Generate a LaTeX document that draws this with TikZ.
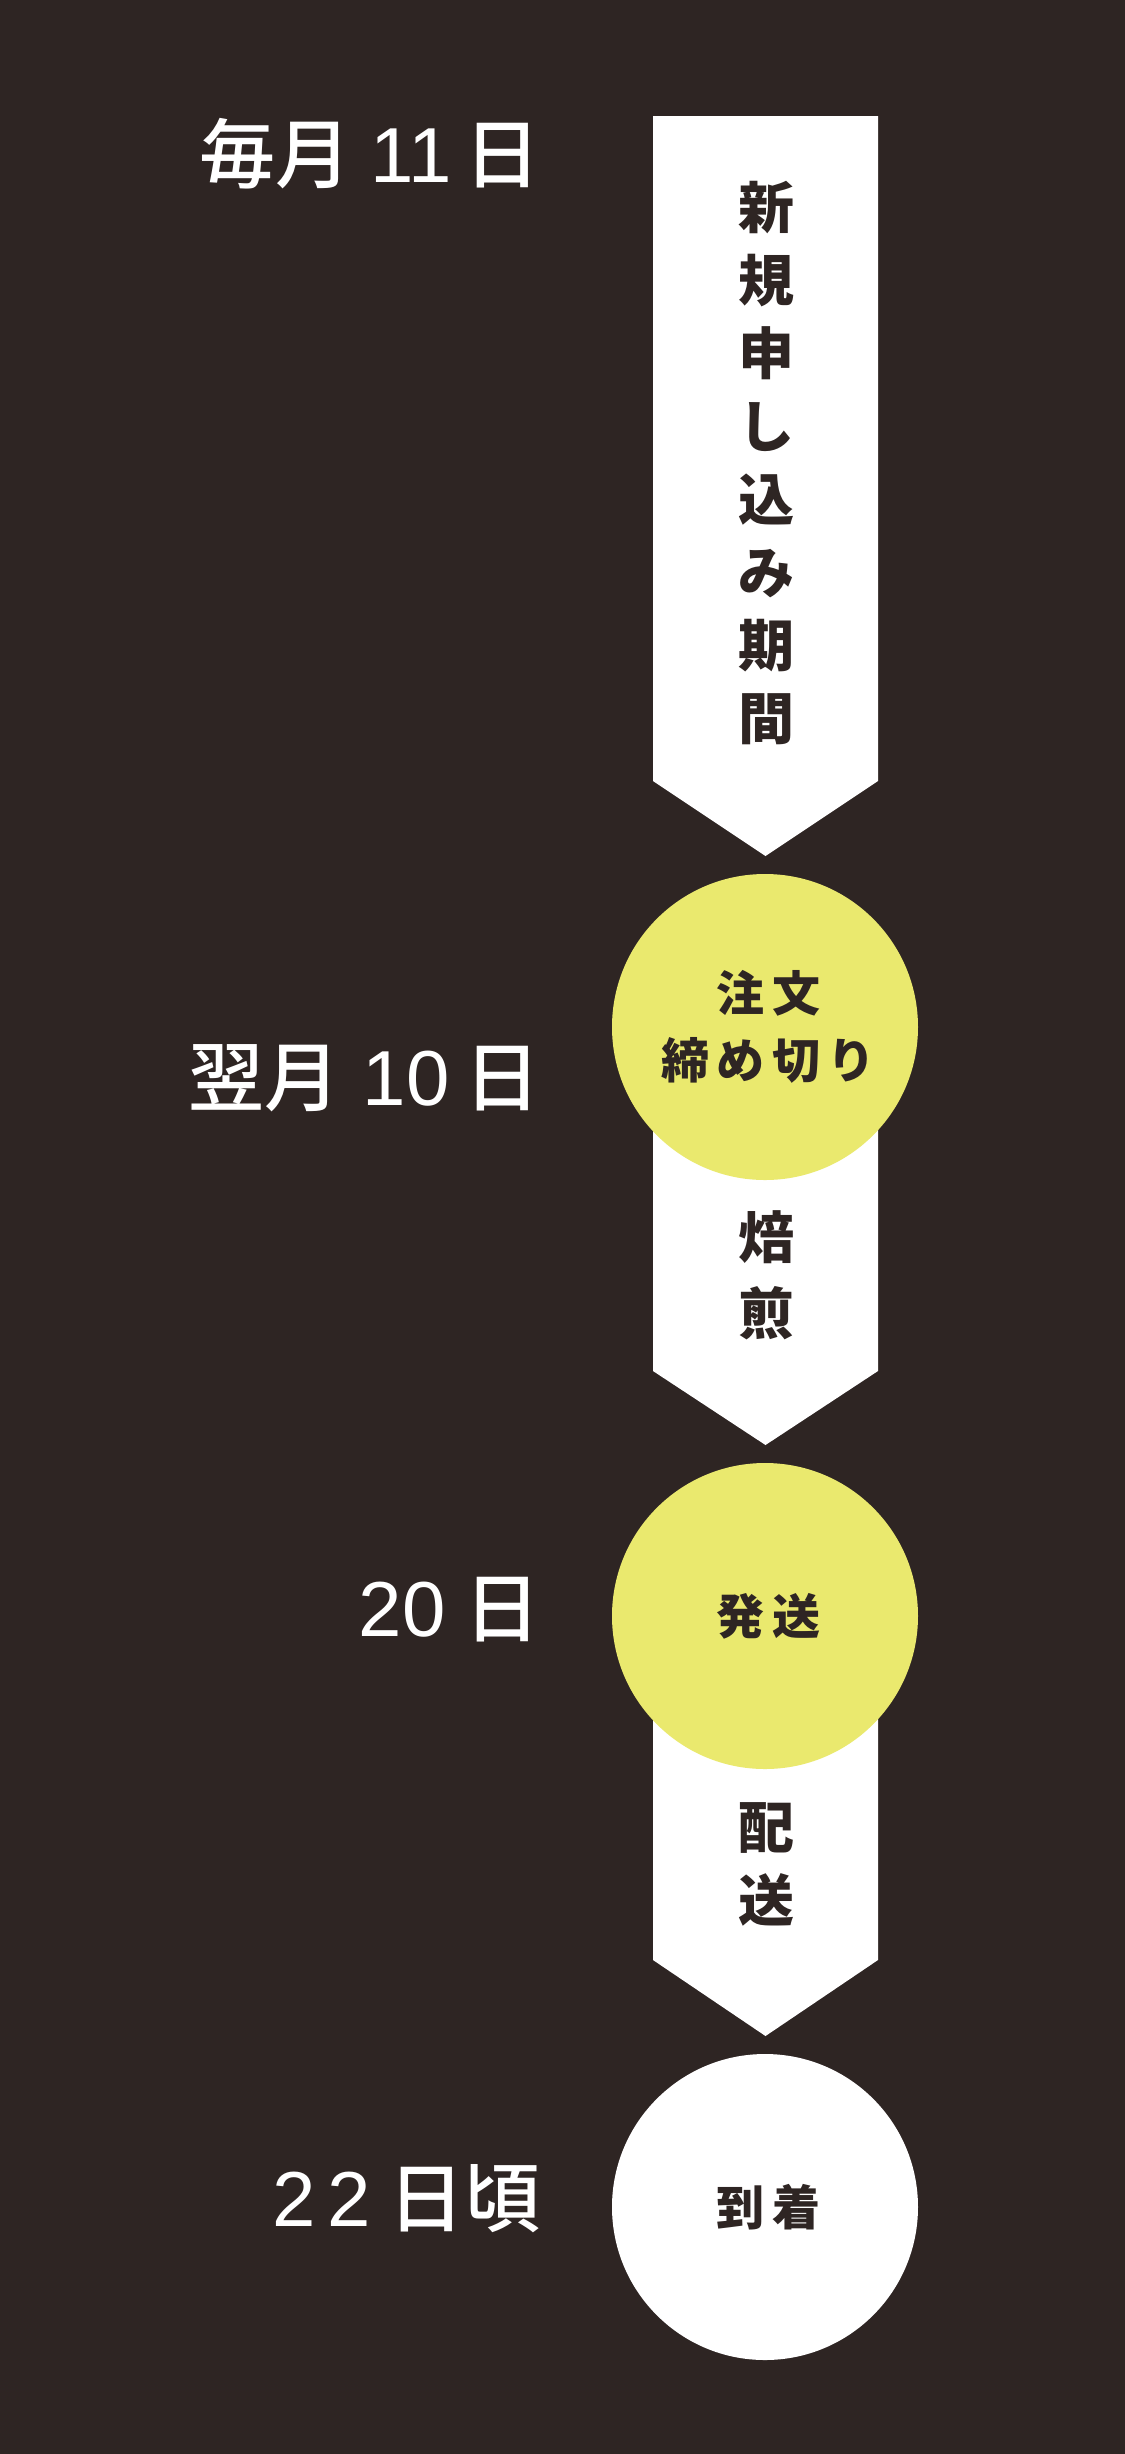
\documentclass[tikz,border=0pt]{standalone}
\usepackage{fontspec}
\setmainfont{Noto Sans CJK JP}
\newfontfamily\medfont{Noto Sans CJK JP Medium}
\newfontfamily\digfont{Liberation Sans}
\newfontfamily\circfont[LetterSpace=15]{Noto Sans CJK JP}
\newcommand{\dg}[1]{{\digfont\fontsize{39}{40}\selectfont #1}}
\definecolor{bg}{RGB}{46,37,35}
\definecolor{yel}{RGB}{234,233,110}
\tikzset{
  datelabel/.style={anchor=east, inner sep=0pt, text=white, font=\medfont\fontsize{38}{40}\selectfont},
  arrowshape/.style={fill=white, draw=none},
  arrowtext/.style={inner sep=0pt, align=center, text=bg, font=\bfseries\fontsize{28}{36.5}\selectfont},
  stepcircle/.style={circle, draw=none, minimum size=153pt, inner sep=0pt, align=center, text=bg, font=\circfont\bfseries\fontsize{24}{33.5}\selectfont},
}
\begin{document}
\begin{tikzpicture}[x=0.5pt, y=-0.5pt]
\fill[bg] (0,0) rectangle (1125,2454);
\useasboundingbox (0,0) rectangle (1125,2454);
% arrows
\fill[arrowshape] (653,116) -- (878,116) -- (878,781) -- (765.5,856) -- (653,781) -- cycle;
\fill[arrowshape] (653,1027) -- (878,1027) -- (878,1371) -- (765.5,1445) -- (653,1371) -- cycle;
\fill[arrowshape] (653,1616) -- (878,1616) -- (878,1960) -- (765.5,2036) -- (653,1960) -- cycle;
\node[arrowtext] (a1) at (766,463) {新\\規\\申\\し\\込\\み\\期\\間};
\node[arrowtext, font=\bfseries\fontsize{28}{38}\selectfont] (a2) at (766,1275) {焙\\煎};
\node[arrowtext] (a3) at (766,1864) {配\\送};
% circles
\node[stepcircle, fill=yel] (c1) at (765,1027) {\hspace*{3.5pt}注文\\\hspace*{3.5pt}締め切り};
\node[stepcircle, fill=yel] (c2) at (765,1616) {\hspace*{3.5pt}発送};
\node[stepcircle, fill=white] (c3) at (765,2207) {\hspace*{3.5pt}到着};
% date labels
\node[datelabel] (d1) at (541,154) {毎月\kern9.5pt\dg{11}\kern6.5pt日};
\node[datelabel] (d2) at (541,1078) {翌月\kern11pt\dg{10}\kern7.5pt日};
\node[datelabel] (d3) at (541,1610) {\dg{20}\kern9.5pt日};
\node[datelabel] (d4) at (541,2199) {\dg{2\kern5.5pt2}\kern9pt日頃};
\end{tikzpicture}
\end{document}
